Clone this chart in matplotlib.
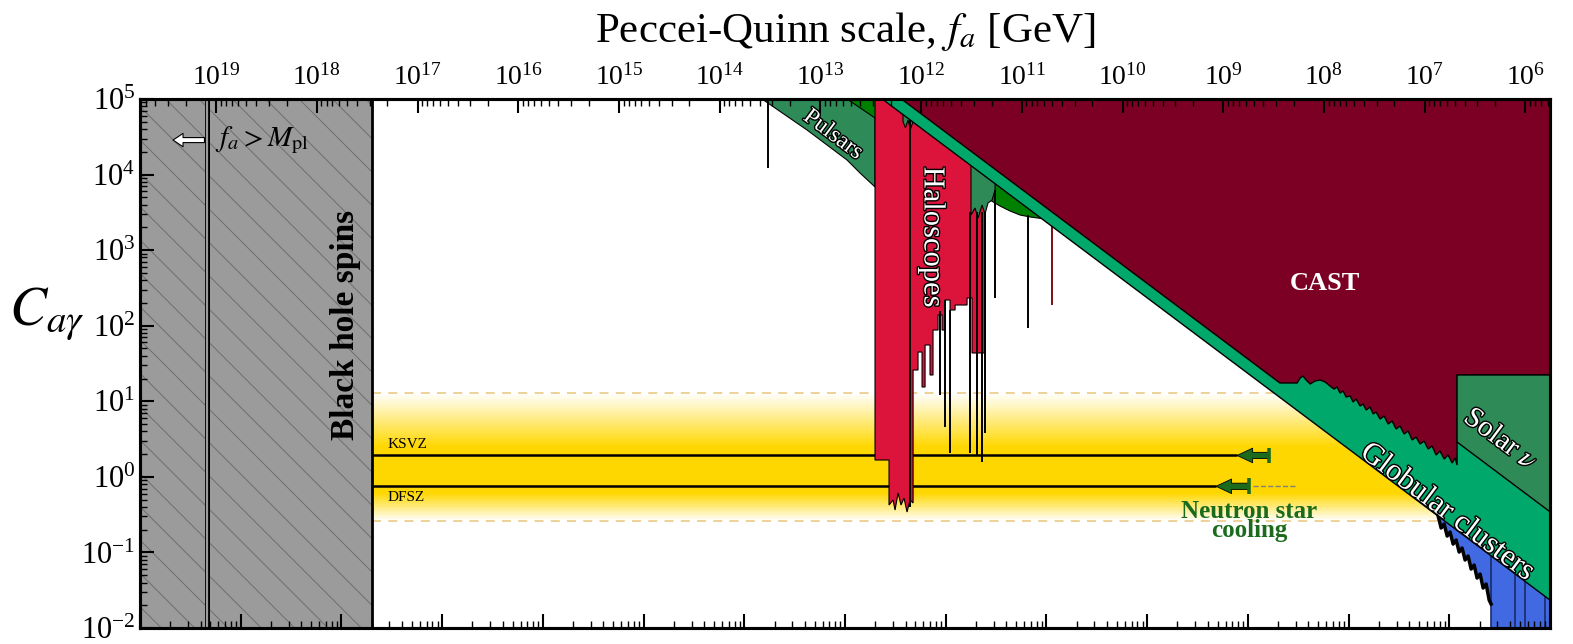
import numpy as np
import matplotlib.pyplot as plt
import matplotlib.patheffects as pe
from matplotlib.ticker import LogLocator, NullFormatter
from matplotlib.colors import LinearSegmentedColormap

plt.rcParams['font.family'] = 'serif'
plt.rcParams['font.serif'] = ['Liberation Serif', 'DejaVu Serif']
plt.rcParams['mathtext.fontset'] = 'stix'
plt.rcParams['hatch.linewidth'] = 0.7

# ---------------- data (log10 m_a [eV], log10 C_ag) ----------------
m_range = (1e-13, 1e1)
C_range = (1e-2, 1e5)
fa_m = 5.7e6          # f_a [GeV] = fa_m / m_a [eV]
M_pl = 1.22e19        # GeV
m_bh = 2.0e-11        # black hole spins

C_KSVZ = 1.92
C_DFSZ = 0.75
band = (0.26, 12.9)

# constant-g bounds, stored as C_ag * m_a
gc_Cm = 0.234
cast_Cm = 0.363
solar_Cm = 3.45
solar_lm_min = 0.077
solar_lc_max = 1.348
cast_lm_knee = -1.68

# neutron star cooling: bar and arrow tip (log10 m) for KSVZ, DFSZ
ns_bar = [-1.790, -1.988]
ns_tip = [-2.107, -2.316]
ns_dash_end = -1.511

pulsar_lm = [-6.824, -5.702, -5.702, -5.851, -5.980, -6.377]
pulsar_lc = [5.0, 5.0, 3.836, 4.021, 4.193, 4.590]

green_lm = [-5.980, -5.702, -4.560, -4.461, -4.361, -4.262, -4.163, -4.014, -3.865, -3.865]
green_lc = [5.0, 4.749, 3.663, 3.584, 3.518, 3.465, 3.439, 3.412, 3.333, 5.0]

halo_lm = [-5.702, -5.702, -5.563, -5.563, -5.523, -5.503, -5.473, -5.444, -5.414, -5.384,
           -5.354, -5.324, -5.324, -5.275, -5.275, -5.235, -5.235, -5.205, -5.205, -5.156,
           -5.156, -5.126, -5.126, -5.076, -5.076, -5.036, -5.036, -5.007, -5.007, -4.957,
           -4.957, -4.907, -4.907, -4.788, -4.788, -4.739, -4.739, -4.610, -4.610]
halo_lc = [5.0, 0.223, 0.223, -0.373, -0.306, -0.439, -0.214, -0.373, -0.280, -0.465,
           -0.306, -0.346, 1.414, 1.414, 1.652, 1.652, 1.189, 1.189, 1.745, 1.745,
           1.348, 1.348, 1.943, 1.943, 2.142, 2.142, 1.943, 1.943, 2.340, 2.340,
           2.208, 2.208, 2.274, 2.274, 2.367, 2.367, 1.639, 1.639, 5.0]

strip_lm = [-4.749, -4.749, -4.709, -4.679, -4.639, -4.610, -4.580, -4.540, -4.510, -4.510]
strip_lc = [5.0, 3.465, 3.558, 3.425, 3.597, 3.478, 3.624, 3.663, 3.796, 5.0]

strip2_lm = [-5.424, -5.424, -5.400, -5.374, -5.350, -5.324, -5.324]
strip2_lc = [5.0, 4.70, 4.62, 4.72, 4.60, 4.70, 5.0]

spike_lm = [-6.764, -5.354, -5.056, -5.007, -4.957, -4.759, -4.689, -4.639, -4.610, -4.510, -4.183, -3.944]
spike_top = [5.0, 5.0, 2.20, 2.34, 2.21, 3.5, 3.5, 3.5, 3.5, 3.8, 3.47, 3.40]
spike_bot = [4.087, -0.40, 1.083, 0.660, 0.316, 0.316, 0.289, 0.196, 0.580, 2.367, 1.970, 2.274]

cast_lm = [-1.680, -1.511, -1.481, -1.452, -1.422, -1.382, -1.332, -1.283, -1.233, -1.184,
           -1.144, -1.114, -1.085, -1.054, -1.025, -0.985, -0.955, -0.925, -0.886, -0.856,
           -0.826, -0.787, -0.756, -0.727, -0.687, -0.647, -0.607, -0.568, -0.528, -0.489,
           -0.449, -0.409, -0.369, -0.330, -0.290, -0.250, -0.210, -0.171, -0.131, -0.092,
           -0.051, -0.012, 0.028, 0.058, 0.077]
cast_lc = [1.242, 1.242, 1.308, 1.334, 1.282, 1.229, 1.268, 1.282, 1.255, 1.202,
           1.162, 1.189, 1.109, 1.136, 1.057, 1.070, 0.990, 1.030, 0.937, 0.964,
           0.884, 0.924, 0.832, 0.858, 0.765, 0.805, 0.699, 0.739, 0.633, 0.673,
           0.567, 0.607, 0.488, 0.527, 0.435, 0.474, 0.368, 0.408, 0.289, 0.342,
           0.236, 0.289, 0.183, 0.249, 0.157]

blue_lm = [-0.111, -0.081, -0.051, -0.021, 0.008, 0.038, 0.068, 0.098, 0.127, 0.157,
           0.187, 0.217, 0.247, 0.276, 0.306, 0.336, 0.366, 0.396, 0.415]
blue_lc = [-0.518, -0.677, -0.624, -0.783, -0.730, -0.889, -0.836, -0.995, -0.942, -1.100,
           -1.048, -1.220, -1.167, -1.339, -1.286, -1.471, -1.418, -1.630, -1.683]
blue_lines_lm = [0.415, 0.654, 0.753, 0.952]

# ---------------- colours ----------------
c_bh = '#9b9b9b'
c_gold = '#FFD700'
c_pulsar = '#2E8B57'
c_green = '#008000'
c_halo = '#DC143C'
c_gc = '#00A86B'
c_cast = '#7B0024'
c_solar = '#2E8B57'
c_blue = '#4169E1'
c_ns = '#1C6B1C'


def P(lm, lc):
    return 10**np.array(lm, dtype=float), 10**np.array(lc, dtype=float)


fig = plt.figure(figsize=(15.73, 6.44), dpi=100)
ax = fig.add_axes([140/1573, 16/644, 1410/1573, 529/644])
ax.set_xscale('log')
ax.set_yscale('log')
ax.set_xlim(*m_range)
ax.set_ylim(*C_range)

# QCD band with gradient
edges = np.logspace(np.log10(band[0]), np.log10(band[1]), 161)
mid = np.log10(np.sqrt(edges[:-1]*edges[1:]))
shade = np.interp(mid, [np.log10(band[0]), -0.214, 0.395, np.log10(band[1])], [0, 1, 1, 0])
cmap = LinearSegmentedColormap.from_list('band', ['white', c_gold])
ax.pcolormesh([m_bh, m_range[1]], edges, shade[:, None], cmap=cmap, vmin=0, vmax=1,
              shading='flat', zorder=0.5)
for b in band:
    ax.hlines(b, m_bh, m_range[1], color='#eccf8f', ls=(0, (5, 4)), lw=1.3, zorder=0.6)

ax.hlines(C_KSVZ, m_bh, 10**ns_tip[0], color='k', lw=1.8, zorder=0.8)
ax.hlines(C_DFSZ, m_bh, 10**ns_tip[1], color='k', lw=1.8, zorder=0.8)
ax.hlines(C_DFSZ, 10**(ns_bar[1] + 0.04), 10**ns_dash_end, color='grey', ls='--', lw=1, zorder=0.8)
ax.text(10**-10.538, 2.65, 'KSVZ', fontsize=11, ha='left', va='center', zorder=0.9)
ax.text(10**-10.538, 0.54, 'DFSZ', fontsize=11, ha='left', va='center', zorder=0.9)

# neutron star cooling
for C, mb, mt in zip([C_KSVZ, C_DFSZ], ns_bar, ns_tip):
    ax.annotate('', xy=(10**mt, C), xytext=(10**mb, C),
                arrowprops=dict(arrowstyle='simple,head_length=0.8,head_width=0.75,tail_width=0.32',
                                fc=c_ns, ec='k', lw=0.6, shrinkA=0, shrinkB=0, mutation_scale=14),
                zorder=1)
    ax.vlines(10**mb, C/10**0.105, C*10**0.105, color=c_ns, lw=2.6, zorder=1.1)
ax.text(10**-1.985, 0.262, 'Neutron star\ncooling', color=c_ns, fontsize=18, fontweight='bold',
        ha='center', va='center', linespacing=0.8, zorder=1.2)

# pulsars, green, haloscopes
x, y = P(pulsar_lm, pulsar_lc)
ax.fill(x, y, facecolor=c_pulsar, edgecolor='k', lw=0.8, zorder=1.3)
x, y = P(green_lm, green_lc)
ax.fill(x, y, facecolor=c_green, edgecolor='k', lw=0.8, zorder=1.4)
x, y = P(halo_lm, halo_lc)
ax.fill(x, y, facecolor=c_halo, edgecolor='k', lw=0.8, zorder=1.5)
x, y = P(strip_lm, strip_lc)
ax.fill(x, y, facecolor=c_pulsar, edgecolor='k', lw=0.8, zorder=1.6)
x, y = P(strip2_lm, strip2_lc)
ax.fill(x, y, facecolor=c_pulsar, edgecolor='k', lw=0.8, zorder=1.6)
for lm, t, b in zip(spike_lm, spike_top, spike_bot):
    col = '#7a1010' if lm > -4.0 else 'k'
    ax.vlines(10**lm, 10**b, 10**t, color=col, lw=1.4, zorder=1.7)

# blue (bottom right)
bx = list(10**np.array(blue_lm)) + [10**blue_lm[-1], m_range[1], m_range[1]]
by = list(10**np.array(blue_lc)) + [C_range[0], C_range[0], gc_Cm/m_range[1]]
ax.fill(bx, by, facecolor=c_blue, lw=0, zorder=1.8)
ax.vlines(10**np.array(blue_lines_lm), C_range[0], 1, color='#1a2a6a', lw=1.2, zorder=1.85)
x, y = P(blue_lm, blue_lc)
ax.plot(x, y, color='k', lw=2.5, zorder=1.9)

# globular clusters
m_gc0 = gc_Cm/C_range[1]
ax.fill([m_gc0, m_range[1], m_range[1]], [C_range[1], gc_Cm/m_range[1], C_range[1]],
        facecolor=c_gc, lw=0, zorder=2.0)
ax.plot([m_gc0, m_range[1]], [C_range[1], gc_Cm/m_range[1]], color='k', lw=1, zorder=2.05)

# CAST
m_c0 = cast_Cm/C_range[1]
cx = [m_c0, 10**cast_lm_knee] + list(10**np.array(cast_lm)) + [10**solar_lm_min, m_range[1], m_range[1]]
cy = [C_range[1], cast_Cm/10**cast_lm_knee] + list(10**np.array(cast_lc)) + \
     [10**solar_lc_max, 10**solar_lc_max, C_range[1]]
ax.fill(cx, cy, facecolor=c_cast, edgecolor='k', lw=1, zorder=2.1)

# solar nu
sm0 = 10**solar_lm_min
ax.fill([sm0, m_range[1], m_range[1], sm0],
        [10**solar_lc_max, 10**solar_lc_max, solar_Cm/m_range[1], solar_Cm/sm0],
        facecolor=c_solar, edgecolor='k', lw=1, zorder=2.2)

# black hole spins / f_a > M_pl
ax.fill_between([m_range[0], m_bh], C_range[0], C_range[1], facecolor=c_bh, edgecolor='#6e6e6e',
                hatch='\\', lw=0, zorder=3)
ax.vlines(m_bh, C_range[0], C_range[1], color='k', lw=2, zorder=3.1)
m_pl = fa_m/M_pl
ax.vlines(m_pl, C_range[0], C_range[1], color='k', lw=3.6, zorder=3.1)
ax.vlines(m_pl, C_range[0], C_range[1], color=c_bh, lw=1.6, zorder=3.2)
ax.annotate('', xy=(10**-12.672, 2.86e4), xytext=(10**-12.36, 2.86e4),
            arrowprops=dict(arrowstyle='simple,head_length=0.6,head_width=0.8,tail_width=0.3',
                            fc='white', ec='k', lw=0.8, shrinkA=0, shrinkB=0, mutation_scale=12),
            zorder=3.3)
ax.text(10**-12.255, 2.86e4, r'$f_a > M_{\rm pl}$', fontsize=21, ha='left', va='center', zorder=3.3)
ax.text(10**-10.964, 102, 'Black hole spins', rotation=90, ha='center', va='center',
        fontsize=24, fontweight='bold', zorder=3.3)

# region labels
outline = [pe.withStroke(linewidth=2, foreground='k')]
ax.text(10**-6.119, 3.34e4, 'Pulsars', color='w', fontsize=17, rotation=-36.9, ha='center',
        va='center', path_effects=outline, zorder=4)
ax.text(10**-5.136, 1493, 'Haloscopes', color='w', fontsize=22, rotation=-90, ha='center',
        va='center', path_effects=outline, zorder=4)
ax.text(10**-1.234, 367, 'CAST', color='w', fontsize=19, fontweight='bold', ha='center',
        va='center', zorder=4)
ax.text(10**-0.022, 10**-0.465, 'Globular clusters', color='w', fontsize=22, rotation=-36.9,
        ha='center', va='center', path_effects=outline, zorder=4)
ax.text(10**0.504, 10**0.488, r'Solar $\nu$', color='w', fontsize=21, rotation=-36.9,
        ha='center', va='center', path_effects=outline, zorder=4)

# axes styling
ax.xaxis.set_major_locator(LogLocator(base=10, numticks=40))
ax.xaxis.set_minor_locator(LogLocator(base=10, subs=np.arange(2, 10), numticks=400))
ax.xaxis.set_minor_formatter(NullFormatter())
ax.yaxis.set_major_locator(LogLocator(base=10, numticks=40))
ax.yaxis.set_minor_locator(LogLocator(base=10, subs=np.arange(2, 10), numticks=400))
ax.yaxis.set_minor_formatter(NullFormatter())
ax.tick_params(axis='x', which='both', direction='in', bottom=True, top=False, labelbottom=False)
ax.tick_params(axis='y', which='both', direction='in', left=True, right=False, labelsize=22)
ax.tick_params(which='major', length=10, width=1.5)
ax.tick_params(which='minor', length=5, width=1.0)
fig.text(47/1573, 1 - 314/644, r'$C_{a\gamma}$', fontsize=40, ha='center', va='center')
ax.xaxis.set_zorder(20)
ax.yaxis.set_zorder(20)
for sp in ax.spines.values():
    sp.set_linewidth(2.2)
    sp.set_zorder(20)

ax2 = ax.twiny()
ax2.set_xscale('log')
ax2.set_xlim(fa_m/m_range[0], fa_m/m_range[1])
ax2.xaxis.set_major_locator(LogLocator(base=10, numticks=40))
ax2.xaxis.set_minor_locator(LogLocator(base=10, subs=np.arange(2, 10), numticks=400))
ax2.xaxis.set_minor_formatter(NullFormatter())
ax2.tick_params(axis='x', which='both', direction='in', labelsize=20, pad=6)
ax2.tick_params(which='major', length=10, width=1.5)
ax2.tick_params(which='minor', length=5, width=1.0)
ax2.set_xlabel('Peccei-Quinn scale, $f_a$ [GeV]', fontsize=31, labelpad=16)
for sp in ax2.spines.values():
    sp.set_linewidth(2.2)

fig.savefig('out.png', dpi=100)
